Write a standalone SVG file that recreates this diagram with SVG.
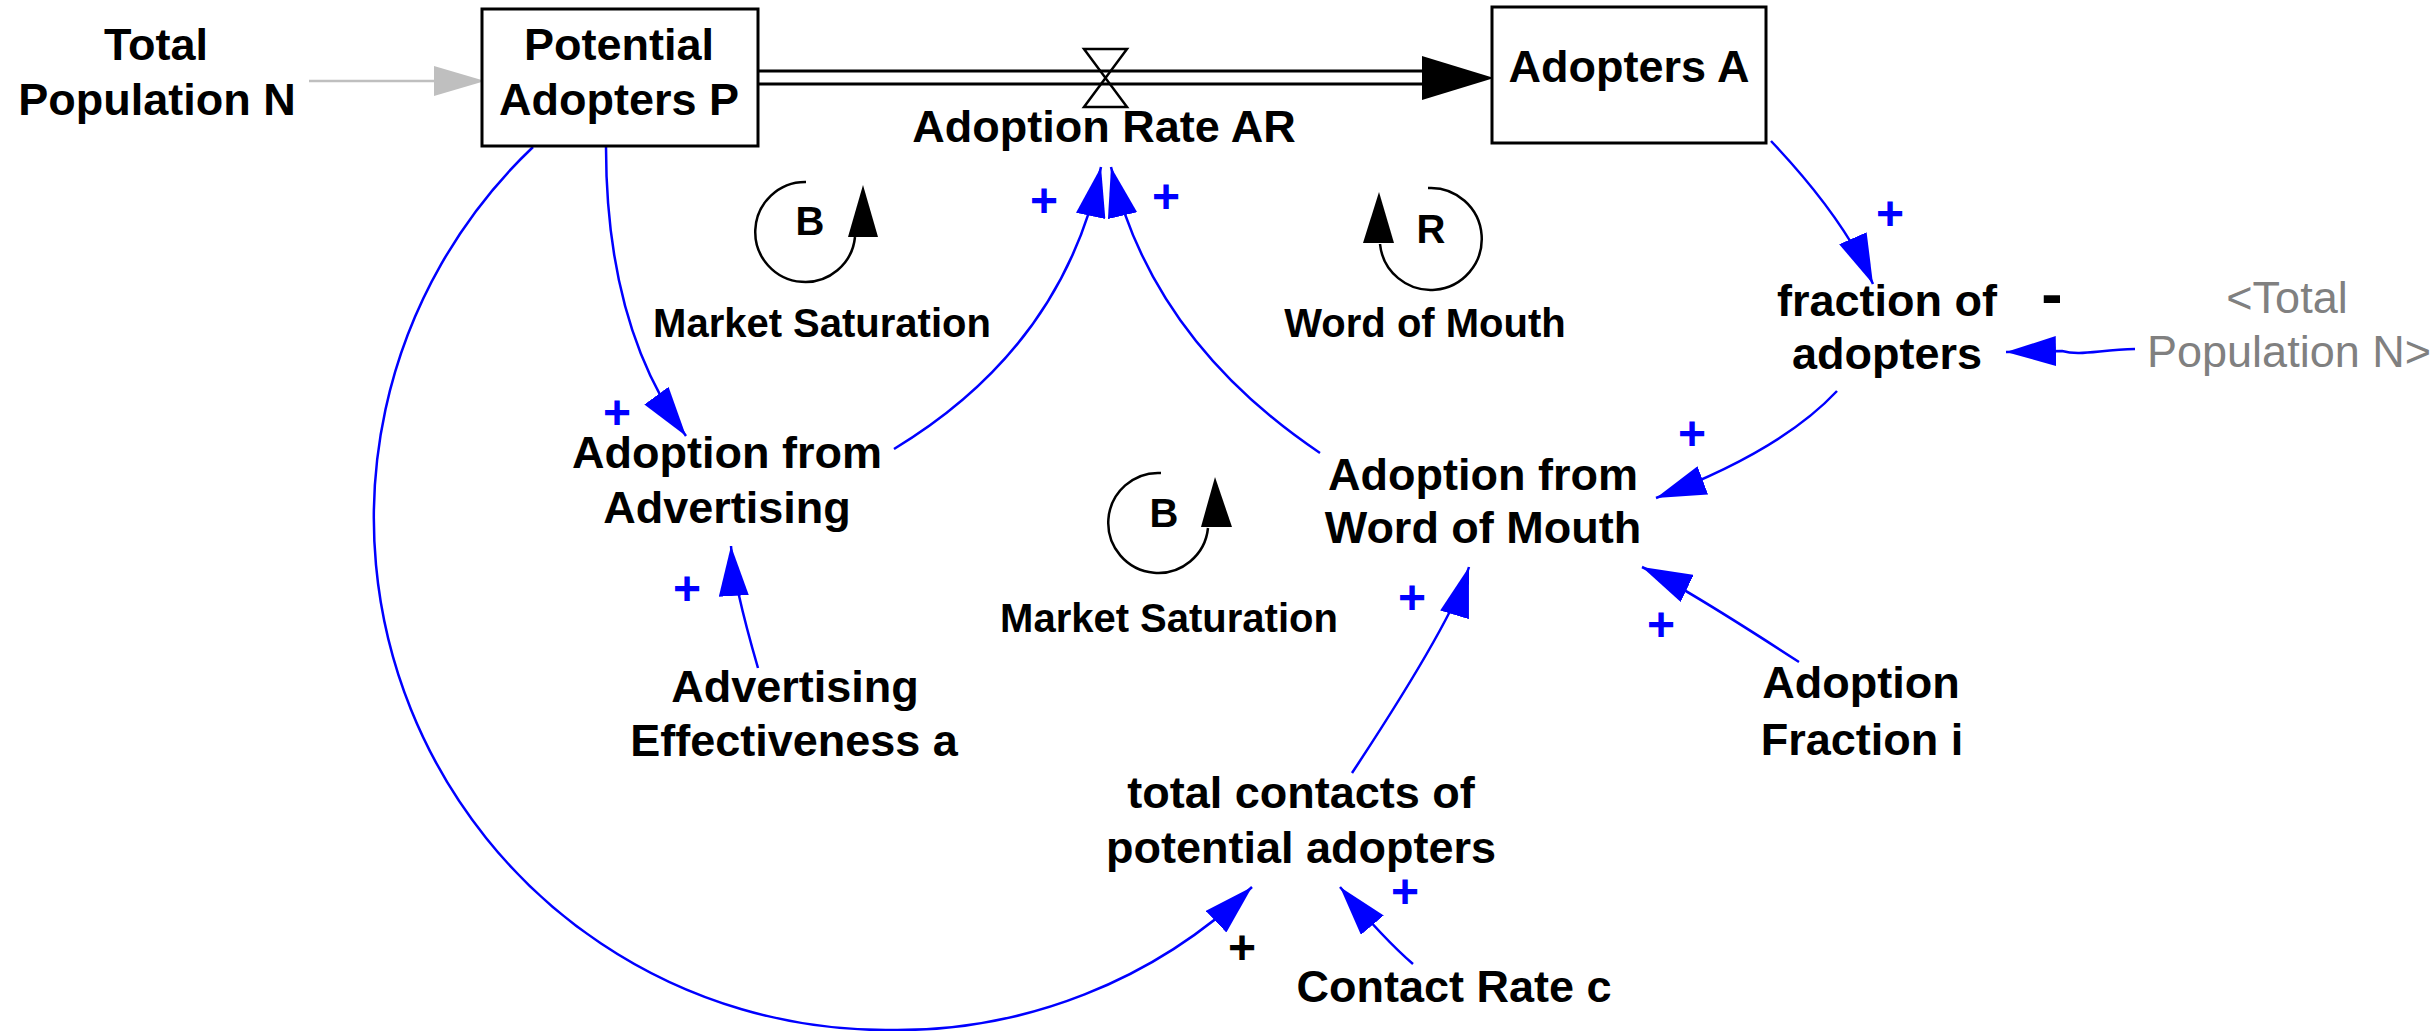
<svg xmlns="http://www.w3.org/2000/svg" width="2430" height="1031" viewBox="0 0 2430 1031">
  <style>
    text { font-family: "Liberation Sans", Arial, Helvetica, sans-serif; text-anchor: middle; }
    .lbl { font-size: 45px; font-weight: bold; fill: #000; }
    .shadow { font-size: 45px; font-weight: normal; fill: #808080; }
    .loopname { font-size: 40px; font-weight: bold; fill: #000; }
    .pol { font-size: 48px; font-weight: bold; fill: #0000ff; }
    .polk { font-size: 48px; font-weight: bold; fill: #000; }
    .stock { fill: #fff; stroke: #000; stroke-width: 3; }
    .pipe { stroke: #000; stroke-width: 3; fill: none; }
    .link { fill: none; stroke: #0000ff; stroke-width: 2.5; marker-end: url(#ah); }
    .looparc { fill: none; stroke: #000; stroke-width: 2.5; }
  </style>
  <defs>
    <marker id="ah" markerUnits="userSpaceOnUse" viewBox="-50 -15 50 30" refX="0" refY="0" markerWidth="50" markerHeight="30" orient="auto">
      <path d="M0,0 L-50,-15 L-50,15 Z" fill="#0000ff"/>
    </marker>
  </defs>
  <rect width="2430" height="1031" fill="#fff"/>

  <!-- causal links -->
  <g id="connectors">
    <path class="link" d="M1771,141 Q1844,218 1873,284"/>
    <path class="link" d="M2135,349 C2098,350 2080,356 2062,351 L2006,352"/>
    <path class="link" d="M1837,391 Q1781,451 1656,498"/>
    <path class="link" d="M1320,453 Q1152,340 1111,167"/>
    <path class="link" d="M894,449 Q1063,347 1101,167"/>
    <path class="link" d="M606,147 Q606,327 686,436"/>
    <path class="link" d="M758,668 Q733,582 731,546"/>
    <path class="link" d="M1352,773 Q1453,620 1469,567"/>
    <path class="link" d="M1799,662 Q1682,586 1642,567"/>
    <path class="link" d="M533,147 A512,512 0 0 0 889,1030 A512,512 0 0 0 1252,887"/>
    <path class="link" d="M1413,964 Q1385,940 1340,887"/>
    <!-- initial value link -->
    <line x1="309" y1="81" x2="436" y2="81" stroke="#bfbfbf" stroke-width="2.5"/>
    <polygon points="434,66 485,81 434,96" fill="#bfbfbf"/>
    <!-- flow pipe -->
    <line class="pipe" x1="758" y1="71" x2="1424" y2="71"/>
    <line class="pipe" x1="758" y1="84" x2="1424" y2="84"/>
    <polygon points="1422,56 1494,78 1422,100" fill="#000"/>
  </g>

  <!-- polarity signs -->
  <g id="polarities">
    <text class="pol" x="1890" y="230">+</text>
    <text class="pol" x="1166" y="213">+</text>
    <text class="pol" x="1044" y="217">+</text>
    <text class="pol" x="617" y="429">+</text>
    <text class="pol" x="1692" y="450">+</text>
    <text class="pol" x="687" y="605">+</text>
    <text class="pol" x="1412" y="614">+</text>
    <text class="pol" x="1661" y="641">+</text>
    <text class="pol" x="1405" y="908">+</text>
    <text class="polk" x="1242" y="964">+</text>
    <text class="polk" x="2052" y="316" style="font-size:64px">-</text>
  </g>

  <g id="total-population">
    <text class="lbl" x="156" y="60">Total</text>
    <text class="lbl" x="157" y="115">Population N</text>
  </g>

  <g id="potential-adopters">
    <rect class="stock" x="482" y="9" width="276" height="137"/>
    <text class="lbl" x="619" y="60">Potential</text>
    <text class="lbl" x="619" y="115">Adopters P</text>
  </g>

  <g id="adopters">
    <rect class="stock" x="1492" y="7" width="274" height="136"/>
    <text class="lbl" x="1629" y="82">Adopters A</text>
  </g>

  <g id="adoption-rate">
    <path d="M1084,49 L1127,49 L1105.5,78 Z M1105.5,78 L1084,107 L1127,107 Z" fill="none" stroke="#000" stroke-width="2.5" stroke-linejoin="miter"/>
    <text class="lbl" x="1104" y="142">Adoption Rate AR</text>
  </g>

  <g id="fraction-of-adopters">
    <text class="lbl" x="1887" y="316">fraction of</text>
    <text class="lbl" x="1887" y="369">adopters</text>
  </g>

  <g id="total-population-shadow">
    <text class="shadow" x="2287" y="313">&lt;Total</text>
    <text class="shadow" x="2289" y="367">Population N&gt;</text>
  </g>

  <g id="adoption-from-advertising">
    <text class="lbl" x="727" y="468">Adoption from</text>
    <text class="lbl" x="727" y="523">Advertising</text>
  </g>

  <g id="adoption-from-word-of-mouth">
    <text class="lbl" x="1483" y="490">Adoption from</text>
    <text class="lbl" x="1483" y="543">Word of Mouth</text>
  </g>

  <g id="advertising-effectiveness">
    <text class="lbl" x="795" y="702">Advertising</text>
    <text class="lbl" x="794" y="756">Effectiveness a</text>
  </g>

  <g id="total-contacts">
    <text class="lbl" x="1301" y="808">total contacts of</text>
    <text class="lbl" x="1301" y="863">potential adopters</text>
  </g>

  <g id="adoption-fraction">
    <text class="lbl" x="1861" y="698">Adoption</text>
    <text class="lbl" x="1862" y="755">Fraction i</text>
  </g>

  <g id="contact-rate">
    <text class="lbl" x="1454" y="1002">Contact Rate c</text>
  </g>

  <!-- feedback loop markers -->
  <g id="loop-market-saturation-1">
    <path class="looparc" d="M806,182 A50,50 0 1 0 855,237"/>
    <polygon points="848,237 878,237 863,185" fill="#000"/>
    <text class="loopname" x="810" y="235">B</text>
    <text class="loopname" x="822" y="337">Market Saturation</text>
  </g>

  <g id="loop-word-of-mouth">
    <path class="looparc" d="M1428,188 A51,51 0 1 1 1380,244"/>
    <polygon points="1363,243 1394,243 1379,192" fill="#000"/>
    <text class="loopname" x="1431" y="243">R</text>
    <text class="loopname" x="1425" y="337">Word of Mouth</text>
  </g>

  <g id="loop-market-saturation-2">
    <path class="looparc" d="M1161,473 A50,50 0 1 0 1208,528"/>
    <polygon points="1201,527 1232,527 1215,477" fill="#000"/>
    <text class="loopname" x="1164" y="527">B</text>
    <text class="loopname" x="1169" y="632">Market Saturation</text>
  </g>
</svg>
